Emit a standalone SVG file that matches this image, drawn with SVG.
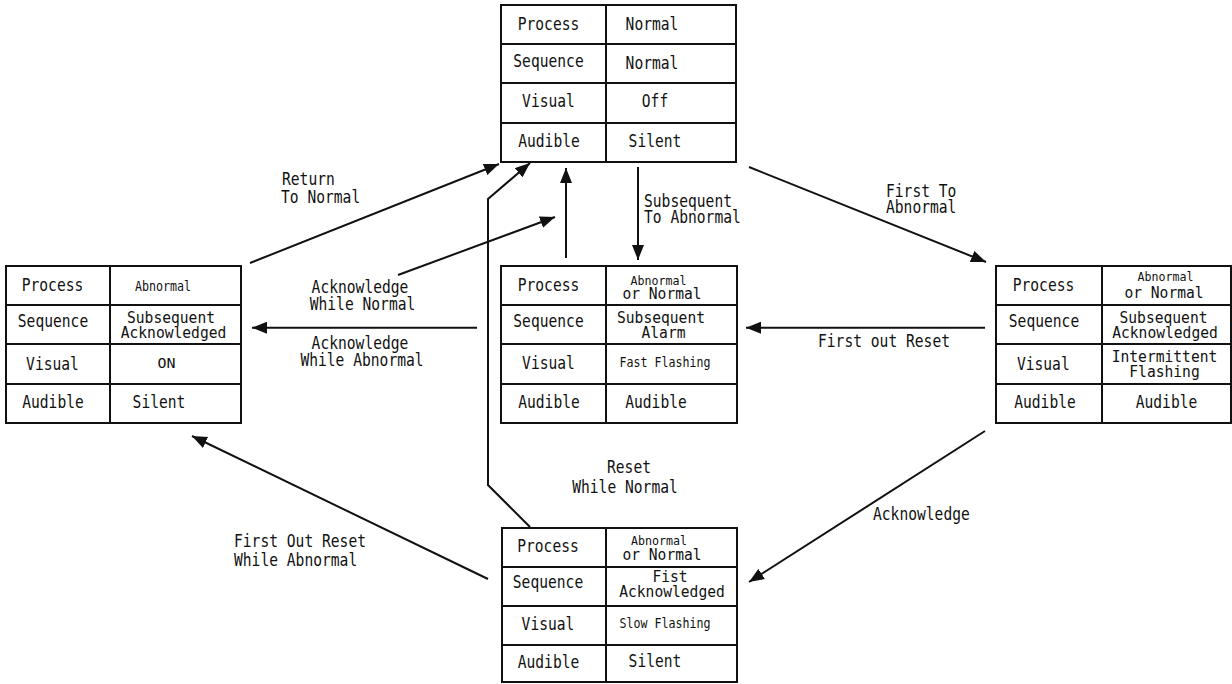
<svg xmlns="http://www.w3.org/2000/svg" width="1232" height="684" viewBox="0 0 1232 684">
  <style>
    .box { fill: #ffffff; stroke: #111111; stroke-width: 2; }
    .grid { stroke: #111111; stroke-width: 2; }
    .t { font-family: "DejaVu Sans Mono", "Liberation Mono", monospace; font-size: 17px; fill: #111111; text-anchor: middle; }
    .m { font-family: "DejaVu Sans Mono", "Liberation Mono", monospace; font-size: 15.5px; fill: #111111; text-anchor: middle; }
    .s { font-family: "DejaVu Sans Mono", "Liberation Mono", monospace; font-size: 13.5px; fill: #111111; text-anchor: middle; }
    .xs { font-family: "DejaVu Sans Mono", "Liberation Mono", monospace; font-size: 12.5px; fill: #111111; text-anchor: middle; }
    .l { font-family: "DejaVu Sans Mono", "Liberation Mono", monospace; font-size: 17px; fill: #111111; text-anchor: start; }
    .edge { fill: none; stroke: #111111; stroke-width: 2; marker-end: url(#arrow); }
  </style>
  <defs>
    <marker id="arrow" markerUnits="userSpaceOnUse" markerWidth="15" markerHeight="12" refX="15" refY="6" orient="auto">
      <path d="M0,0 L15,6 L0,12 z" fill="#111111"/>
    </marker>
  </defs>
  <rect width="1232" height="684" fill="#ffffff"/>

  <!-- state: normal -->
  <g id="state-normal">
    <rect class="box" x="501" y="5" width="235" height="157"/>
    <line class="grid" x1="606" y1="5" x2="606" y2="162"/>
    <line class="grid" x1="501" y1="44" x2="736" y2="44"/>
    <line class="grid" x1="501" y1="83" x2="736" y2="83"/>
    <line class="grid" x1="501" y1="123" x2="736" y2="123"/>
    <text class="t" x="548.5" y="30" textLength="61.6" lengthAdjust="spacingAndGlyphs">Process</text>
    <text class="t" x="652" y="30" textLength="52.8" lengthAdjust="spacingAndGlyphs">Normal</text>
    <text class="t" x="548.5" y="67" textLength="70.4" lengthAdjust="spacingAndGlyphs">Sequence</text>
    <text class="t" x="652" y="69" textLength="52.8" lengthAdjust="spacingAndGlyphs">Normal</text>
    <text class="t" x="548.5" y="107" textLength="52.8" lengthAdjust="spacingAndGlyphs">Visual</text>
    <text class="t" x="655" y="107" textLength="26.4" lengthAdjust="spacingAndGlyphs">Off</text>
    <text class="t" x="549" y="147" textLength="61.6" lengthAdjust="spacingAndGlyphs">Audible</text>
    <text class="t" x="655" y="147" textLength="52.8" lengthAdjust="spacingAndGlyphs">Silent</text>
  </g>

  <!-- state: subsequent acknowledged (left) -->
  <g id="state-subsequent-ack">
    <rect class="box" x="6" y="266" width="235" height="157"/>
    <line class="grid" x1="110" y1="266" x2="110" y2="423"/>
    <line class="grid" x1="6" y1="305" x2="241" y2="305"/>
    <line class="grid" x1="6" y1="344" x2="241" y2="344"/>
    <line class="grid" x1="6" y1="384" x2="241" y2="384"/>
    <text class="t" x="52.5" y="291" textLength="61.6" lengthAdjust="spacingAndGlyphs">Process</text>
    <text class="s" x="163" y="291" textLength="56" lengthAdjust="spacingAndGlyphs">Abnormal</text>
    <text class="t" x="53" y="327" textLength="70.4" lengthAdjust="spacingAndGlyphs">Sequence</text>
    <text class="m" x="171" y="322.5" textLength="88" lengthAdjust="spacingAndGlyphs">Subsequent</text>
    <text class="m" x="173.5" y="338" textLength="105.6" lengthAdjust="spacingAndGlyphs">Acknowledged</text>
    <text class="t" x="52.5" y="370" textLength="52.8" lengthAdjust="spacingAndGlyphs">Visual</text>
    <text class="s" x="166.5" y="368" textLength="18" lengthAdjust="spacingAndGlyphs">ON</text>
    <text class="t" x="53" y="408" textLength="61.6" lengthAdjust="spacingAndGlyphs">Audible</text>
    <text class="t" x="159" y="408" textLength="52.8" lengthAdjust="spacingAndGlyphs">Silent</text>
  </g>

  <!-- state: subsequent alarm (centre) -->
  <g id="state-subsequent-alarm">
    <rect class="box" x="501" y="266" width="236" height="157"/>
    <line class="grid" x1="606" y1="266" x2="606" y2="423"/>
    <line class="grid" x1="501" y1="305" x2="737" y2="305"/>
    <line class="grid" x1="501" y1="344" x2="737" y2="344"/>
    <line class="grid" x1="501" y1="384" x2="737" y2="384"/>
    <text class="t" x="548.5" y="291" textLength="61.6" lengthAdjust="spacingAndGlyphs">Process</text>
    <text class="xs" x="658.5" y="284.5" textLength="56" lengthAdjust="spacingAndGlyphs">Abnormal</text>
    <text class="m" x="662" y="299" textLength="79.2" lengthAdjust="spacingAndGlyphs">or Normal</text>
    <text class="t" x="548.5" y="327" textLength="70.4" lengthAdjust="spacingAndGlyphs">Sequence</text>
    <text class="m" x="661" y="322.5" textLength="88" lengthAdjust="spacingAndGlyphs">Subsequent</text>
    <text class="m" x="663.5" y="338" textLength="44" lengthAdjust="spacingAndGlyphs">Alarm</text>
    <text class="t" x="548.5" y="369" textLength="52.8" lengthAdjust="spacingAndGlyphs">Visual</text>
    <text class="s" x="665" y="367.3" textLength="91" lengthAdjust="spacingAndGlyphs">Fast Flashing</text>
    <text class="t" x="549" y="408" textLength="61.6" lengthAdjust="spacingAndGlyphs">Audible</text>
    <text class="t" x="656" y="408" textLength="61.6" lengthAdjust="spacingAndGlyphs">Audible</text>
  </g>

  <!-- state: first out alarm (right) -->
  <g id="state-first-out">
    <rect class="box" x="996" y="266" width="235" height="157"/>
    <line class="grid" x1="1102" y1="266" x2="1102" y2="423"/>
    <line class="grid" x1="996" y1="305" x2="1231" y2="305"/>
    <line class="grid" x1="996" y1="344" x2="1231" y2="344"/>
    <line class="grid" x1="996" y1="384" x2="1231" y2="384"/>
    <text class="t" x="1043.5" y="291" textLength="61.6" lengthAdjust="spacingAndGlyphs">Process</text>
    <text class="xs" x="1165.5" y="280.5" textLength="56" lengthAdjust="spacingAndGlyphs">Abnormal</text>
    <text class="m" x="1164" y="297.5" textLength="79.2" lengthAdjust="spacingAndGlyphs">or Normal</text>
    <text class="t" x="1044" y="327" textLength="70.4" lengthAdjust="spacingAndGlyphs">Sequence</text>
    <text class="m" x="1163.5" y="322.5" textLength="88" lengthAdjust="spacingAndGlyphs">Subsequent</text>
    <text class="m" x="1165" y="337.5" textLength="105.6" lengthAdjust="spacingAndGlyphs">Acknowledged</text>
    <text class="t" x="1043.3" y="370" textLength="52.8" lengthAdjust="spacingAndGlyphs">Visual</text>
    <text class="m" x="1164.5" y="362" textLength="105.6" lengthAdjust="spacingAndGlyphs">Intermittent</text>
    <text class="m" x="1164.5" y="377" textLength="70.4" lengthAdjust="spacingAndGlyphs">Flashing</text>
    <text class="t" x="1045" y="408" textLength="61.6" lengthAdjust="spacingAndGlyphs">Audible</text>
    <text class="t" x="1166.5" y="408" textLength="61.6" lengthAdjust="spacingAndGlyphs">Audible</text>
  </g>

  <!-- state: first acknowledged (bottom) -->
  <g id="state-first-ack">
    <rect class="box" x="502" y="528" width="235" height="154"/>
    <line class="grid" x1="606" y1="528" x2="606" y2="682"/>
    <line class="grid" x1="502" y1="567" x2="737" y2="567"/>
    <line class="grid" x1="502" y1="606" x2="737" y2="606"/>
    <line class="grid" x1="502" y1="645" x2="737" y2="645"/>
    <text class="t" x="548" y="551.7" textLength="61.6" lengthAdjust="spacingAndGlyphs">Process</text>
    <text class="xs" x="659" y="544.5" textLength="56" lengthAdjust="spacingAndGlyphs">Abnormal</text>
    <text class="m" x="662" y="560" textLength="79.2" lengthAdjust="spacingAndGlyphs">or Normal</text>
    <text class="t" x="548" y="588" textLength="70.4" lengthAdjust="spacingAndGlyphs">Sequence</text>
    <text class="m" x="670" y="581.5" textLength="35.2" lengthAdjust="spacingAndGlyphs">Fist</text>
    <text class="m" x="672" y="597.3" textLength="105.6" lengthAdjust="spacingAndGlyphs">Acknowledged</text>
    <text class="t" x="548" y="630" textLength="52.8" lengthAdjust="spacingAndGlyphs">Visual</text>
    <text class="s" x="665" y="628.3" textLength="91" lengthAdjust="spacingAndGlyphs">Slow Flashing</text>
    <text class="t" x="548.5" y="668" textLength="61.6" lengthAdjust="spacingAndGlyphs">Audible</text>
    <text class="t" x="655" y="667.3" textLength="52.8" lengthAdjust="spacingAndGlyphs">Silent</text>
  </g>

  <!-- transitions -->
  <g id="connectors">
    <path class="edge" d="M250,263 L499,164"/>
    <path class="edge" d="M530,527 L488,485 L488,199 L530,163"/>
    <path class="edge" d="M398,275 L555,217"/>
    <path class="edge" d="M477,327.7 L252,327.7"/>
    <path class="edge" d="M566,258 L566,168"/>
    <path class="edge" d="M638,167 L638,260"/>
    <path class="edge" d="M749,167 L986,262"/>
    <path class="edge" d="M985,327.7 L746,327.7"/>
    <path class="edge" d="M985,431 L749,582"/>
    <path class="edge" d="M488,579 L192,436"/>
  </g>

  <!-- transition labels -->
  <g id="labels">
    <text class="l" x="282" y="185" textLength="52.8" lengthAdjust="spacingAndGlyphs">Return</text>
    <text class="l" x="281" y="203" textLength="79.2" lengthAdjust="spacingAndGlyphs">To Normal</text>
    <text class="t" x="360" y="293" textLength="96.8" lengthAdjust="spacingAndGlyphs">Acknowledge</text>
    <text class="t" x="362.5" y="310" textLength="105.6" lengthAdjust="spacingAndGlyphs">While Normal</text>
    <text class="t" x="360" y="349" textLength="96.8" lengthAdjust="spacingAndGlyphs">Acknowledge</text>
    <text class="t" x="362" y="366" textLength="123.2" lengthAdjust="spacingAndGlyphs">While Abnormal</text>
    <text class="l" x="644" y="207" textLength="88" lengthAdjust="spacingAndGlyphs">Subsequent</text>
    <text class="l" x="644" y="223" textLength="96.8" lengthAdjust="spacingAndGlyphs">To Abnormal</text>
    <text class="l" x="886" y="197" textLength="70.4" lengthAdjust="spacingAndGlyphs">First To</text>
    <text class="l" x="886" y="213" textLength="70.4" lengthAdjust="spacingAndGlyphs">Abnormal</text>
    <text class="l" x="818" y="347" textLength="132" lengthAdjust="spacingAndGlyphs">First out Reset</text>
    <text class="l" x="873" y="520" textLength="96.8" lengthAdjust="spacingAndGlyphs">Acknowledge</text>
    <text class="l" x="234" y="547" textLength="132" lengthAdjust="spacingAndGlyphs">First Out Reset</text>
    <text class="l" x="234" y="566" textLength="123.2" lengthAdjust="spacingAndGlyphs">While Abnormal</text>
    <text class="t" x="629" y="473" textLength="44" lengthAdjust="spacingAndGlyphs">Reset</text>
    <text class="t" x="625" y="493" textLength="105.6" lengthAdjust="spacingAndGlyphs">While Normal</text>
  </g>
</svg>
